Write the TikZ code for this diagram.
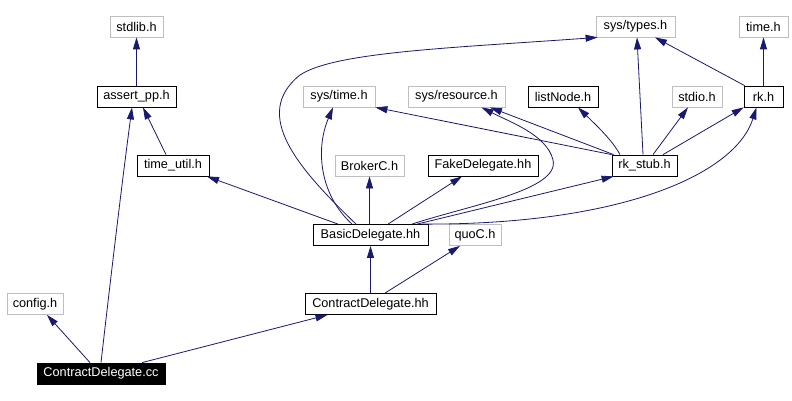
\documentclass[tikz,border=0pt]{standalone}
\usepackage{fontspec}
\setmainfont{Liberation Sans}
\usetikzlibrary{arrows.meta}
\definecolor{edgec}{RGB}{25,25,112}
\definecolor{grayb}{RGB}{191,191,191}
\begin{document}
\begin{tikzpicture}[x=1pt,y=-1pt,
  box/.style={draw, line width=0.8pt, inner sep=0pt, minimum height=21pt, font=\fontsize{12.7}{14}\selectfont, text=black},
  ext/.style={box, draw=grayb},
  loc/.style={box, draw=black},
  mainbox/.style={box, draw=black, fill=black, text=white},
  dep/.style={draw=edgec, line width=0.8pt, -{Triangle[length=12pt,width=7pt]}}]
\useasboundingbox[fill=white] (0,0) rectangle (792,401);
\node[ext, minimum width=53pt] (stdlib) at (136.5,26.5) {stdlib.h};
\node[loc, minimum width=79pt] (ap) at (136.5,96.5) {assert\_pp.h};
\node[loc, minimum width=72pt] (tu) at (173,165.5) {time\_util.h};
\node[ext, minimum width=56pt] (cfg) at (35,304) {config.h};
\node[mainbox, minimum width=128pt] (cc) at (101,373.5) {ContractDelegate.cc};
\node[ext, minimum width=72pt] (stime) at (339,96.5) {sys/time.h};
\node[ext, minimum width=97pt] (sres) at (456.5,96.5) {sys/resource.h};
\node[loc, minimum width=70pt] (ln) at (563,96.5) {listNode.h};
\node[ext, minimum width=79pt] (stypes) at (635.5,26.5) {sys/types.h};
\node[ext, minimum width=49pt] (timeh) at (763.5,26.5) {time.h};
\node[ext, minimum width=50pt] (stdio) at (697,96.5) {stdio.h};
\node[loc, minimum width=39pt] (rk) at (763.5,96.5) {rk.h};
\node[loc, minimum width=65pt] (rs) at (644.5,165.5) {rk\_stub.h};
\node[ext, minimum width=69pt] (broker) at (369.5,165.5) {BrokerC.h};
\node[loc, minimum width=110pt] (fake) at (483,165.5) {FakeDelegate.hh};
\node[loc, minimum width=115pt] (bd) at (370.5,235) {BasicDelegate.hh};
\node[ext, minimum width=52pt] (quo) at (475,235) {quoC.h};
\node[loc, minimum width=131pt] (cdhh) at (370.5,304) {ContractDelegate.hh};

\draw[dep] (ap) -- (stdlib);
\draw[dep] ([xshift=-7pt]tu.north) -- ([xshift=6.5pt]ap.south);
\draw[dep] (cc.north) .. controls (115,240) and (125,160) .. ([xshift=-4.5pt]ap.south);
\draw[dep] ([xshift=-11pt]cc.north) -- ([xshift=12pt]cfg.south);
\draw[dep] ([xshift=41pt]cc.north) -- ([xshift=-43pt]cdhh.south);
\draw[dep] (cdhh) -- (bd);
\draw[dep] ([xshift=14.5pt]cdhh.north) -- ([xshift=-15pt]quo.south);
\draw[dep] ([xshift=-32.5pt]bd.north) -- ([xshift=34pt]tu.south);
\draw[dep] ([xshift=-18.5pt]bd.north) .. controls (320,195) and (315,150) .. ([xshift=-6pt]stime.south);
\draw[dep] ([xshift=-14.5pt]bd.north) .. controls (300,170) and (250,115) .. (300,75) .. controls (335,52) and (450,48) .. ([xshift=2pt]stypes.south west);
\draw[dep] ([xshift=-1pt]bd.north) -- (broker.south);
\draw[dep] ([xshift=17.5pt]bd.north) -- ([xshift=-21pt]fake.south);
\draw[dep] ([xshift=41.5pt]bd.north) .. controls (470,205) and (560,190) .. (553,160) .. controls (547,135) and (510,122) .. ([xshift=25pt]sres.south);
\draw[dep] ([xshift=46.5pt]bd.north) -- ([xshift=2pt]rs.south west);
\draw[dep] ([xshift=51.5pt]bd.north) .. controls (620,225) and (735,175) .. ([xshift=-7pt]rk.south);

\draw[dep] (rs.north west) -- (stime.south east);
\draw[dep] ([xshift=2pt]rs.north west) -- ([xshift=33.5pt]sres.south);
\draw[dep] ([xshift=-24.5pt]rs.north) .. controls (612,140) and (598,127) .. ([xshift=15pt]ln.south);
\draw[dep] ([xshift=-1.5pt]rs.north) -- ([xshift=1.5pt]stypes.south);
\draw[dep] ([xshift=8.5pt]rs.north) -- ([xshift=-9pt]stdio.south);
\draw[dep] ([xshift=18.5pt]rs.north) -- (rk.south west);
\draw[dep] ([xshift=1pt]rk.north west) -- ([xshift=19.5pt]stypes.south);
\draw[dep] (rk) -- (timeh);
\end{tikzpicture}
\end{document}
